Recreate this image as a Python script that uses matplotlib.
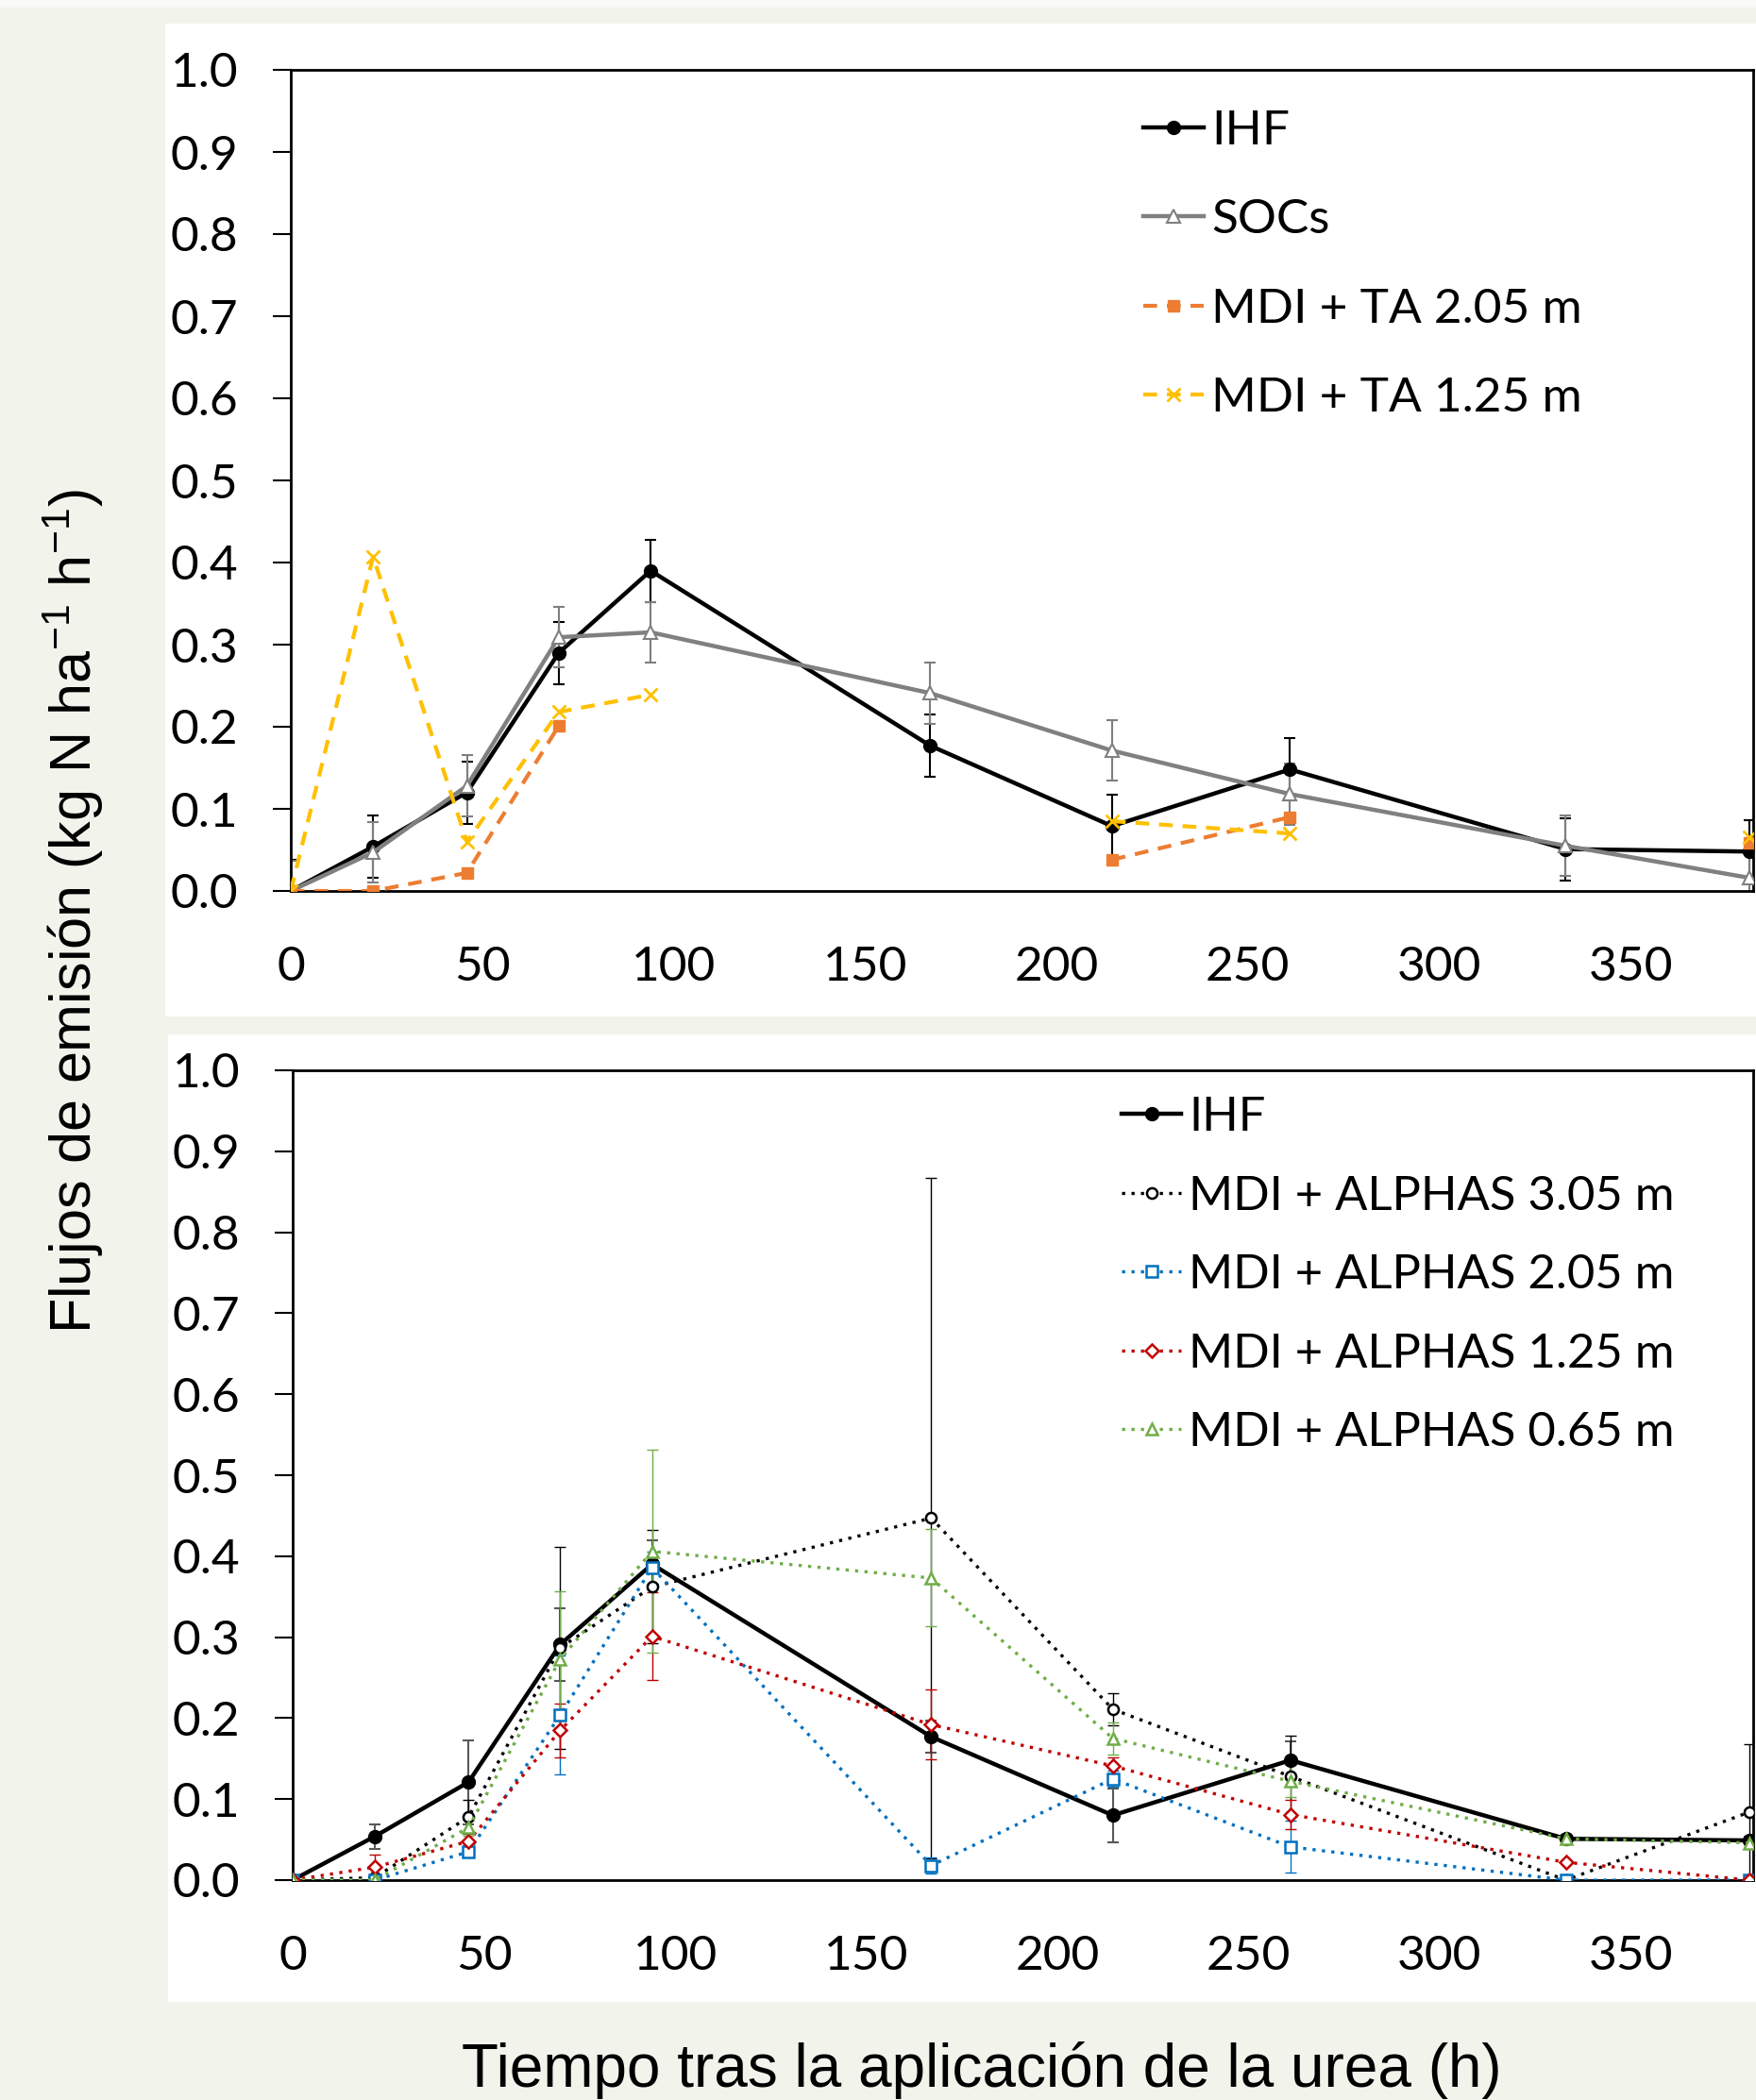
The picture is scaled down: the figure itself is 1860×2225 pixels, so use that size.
import numpy as np
import matplotlib
matplotlib.use("Agg")
import matplotlib.pyplot as plt
from matplotlib.patches import Rectangle

# ---- data ----
tiempo = [0, 21.5, 46, 70, 94, 167, 214.5, 261, 333, 381]

# upper panel
ihf_sup = [0.0, 0.054, 0.120, 0.290, 0.390, 0.177, 0.079, 0.148, 0.051, 0.048]
ihf_sup_err = [0.038] * 10
socs = [0.0, 0.047, 0.128, 0.309, 0.315, 0.241, 0.171, 0.118, 0.055, 0.016]
socs_err = [0.037] * 10
ta_205 = [0.0, 0.0, 0.022, 0.201, np.nan, np.nan, 0.038, 0.090, np.nan, 0.059]
ta_125 = [0.0, 0.407, 0.060, 0.218, 0.239, np.nan, 0.085, 0.070, np.nan, 0.066]

# lower panel
ihf_inf = [0.0, 0.054, 0.121, 0.291, 0.390, 0.177, 0.080, 0.148, 0.051, 0.049]
ihf_inf_err = [0.0, 0.015, 0.052, 0.045, 0.030, 0.020, 0.033, 0.023, 0.005, 0.005]
al_305 = [0.0, 0.003, 0.078, 0.287, 0.362, 0.447, 0.211, 0.128, 0.0, 0.084]
al_305_err = [0.0, 0.003, 0.021, 0.125, 0.070, 0.420, 0.020, 0.050, 0.0, 0.084]
al_205 = [0.0, 0.0, 0.035, 0.204, 0.386, 0.018, 0.125, 0.041, 0.0, 0.0]
al_205_err = [0.0, 0.0, 0.005, 0.073, 0.020, 0.010, 0.010, 0.032, 0.0, 0.0]
al_125 = [0.0, 0.016, 0.048, 0.185, 0.301, 0.192, 0.141, 0.081, 0.022, 0.0]
al_125_err = [0.0, 0.015, 0.010, 0.033, 0.054, 0.043, 0.010, 0.018, 0.0, 0.0]
al_065 = [0.0, 0.0, 0.065, 0.273, 0.406, 0.373, 0.175, 0.122, 0.051, 0.046]
al_065_err = [0.0, 0.0, 0.010, 0.084, 0.125, 0.060, 0.020, 0.020, 0.005, 0.005]

y_ticks = [0.0, 0.1, 0.2, 0.3, 0.4, 0.5, 0.6, 0.7, 0.8, 0.9, 1.0]
x_ticks = [0, 50, 100, 150, 200, 250, 300, 350]

W, H = 1860, 2225
TICK_FONT = ["Lato", "DejaVu Sans"]
LABEL_FONT = ["Liberation Sans", "DejaVu Sans"]
plt.rcParams["mathtext.fontset"] = "custom"
plt.rcParams["mathtext.rm"] = "Liberation Sans"
plt.rcParams["mathtext.default"] = "rm"


def fx(px):
    return px / W


def fy(py):
    return 1 - py / H


fig = plt.figure(figsize=(W / 100, H / 100), dpi=100)
fig.patch.set_facecolor("#F2F4EC")
fig.add_artist(Rectangle((0, fy(8)), 1, 8 / H, transform=fig.transFigure,
                         facecolor="#FAFAF7", edgecolor="none", zorder=-2))
fig.add_artist(Rectangle((fx(175), fy(1077)), fx(W - 175), (1077 - 25) / H,
                         transform=fig.transFigure, facecolor="white",
                         edgecolor="none", zorder=-1))
fig.add_artist(Rectangle((fx(178), fy(2121)), fx(W - 178), (2121 - 1096) / H,
                         transform=fig.transFigure, facecolor="white",
                         edgecolor="none", zorder=-1))

ax1 = fig.add_axes([fx(308), fy(944), (1857 - 308) / W, (944 - 74) / H])
ax2 = fig.add_axes([fx(310), fy(1992), (1857 - 310) / W, (1992 - 1134) / H])


def style_axes(ax):
    ax.set_xlim(0, 382)
    ax.set_ylim(0, 1.0)
    ax.set_yticks(y_ticks)
    ax.set_yticklabels([f"{v:.1f}" for v in y_ticks])
    ax.set_xticks(x_ticks)
    ax.set_xticklabels([str(v) for v in x_ticks])
    for s in ax.spines.values():
        s.set_linewidth(2)
        s.set_color("black")
    ax.tick_params(axis="y", direction="out", length=14, width=1.5, pad=26)
    ax.tick_params(axis="x", length=0, pad=42)
    for lab in ax.get_xticklabels() + ax.get_yticklabels():
        lab.set_fontfamily(TICK_FONT)
        lab.set_fontsize(37)


# ---- upper panel ----
ax1.errorbar(tiempo, ihf_sup, yerr=ihf_sup_err, fmt="none", ecolor="black",
             elinewidth=1.5, capsize=4, capthick=1.5, zorder=2)
ax1.errorbar(tiempo, socs, yerr=socs_err, fmt="none", ecolor="#7F7F7F",
             elinewidth=1.5, capsize=4, capthick=1.5, zorder=2)
l1, = ax1.plot(tiempo, ihf_sup, color="black", lw=3.2, marker="o", ms=10,
               label="IHF", zorder=3)
l2, = ax1.plot(tiempo, socs, color="#808080", lw=3.2, marker="^", ms=10,
               mfc="white", mec="#808080", mew=1.5, label="SOCs", zorder=3)
l3, = ax1.plot(tiempo, ta_205, color="#ED7D31", lw=3, ls=(0, (3.5, 2.5)),
               marker="s", ms=9, label="MDI + TA 2.05 m", zorder=4)
l4, = ax1.plot(tiempo, ta_125, color="#FFC000", lw=3, ls=(0, (3.5, 2.5)),
               marker="x", ms=10, mew=2, label="MDI + TA 1.25 m", zorder=4)
style_axes(ax1)
ax1.legend(handles=[l1, l2, l3, l4], loc="upper left",
           bbox_to_anchor=(fx(1211), fy(116)), bbox_transform=fig.transFigure,
           frameon=False, handlelength=1.25, handletextpad=0.15,
           labelspacing=0.94, borderpad=0, borderaxespad=0,
           prop={"family": TICK_FONT, "size": 37})

# ---- lower panel ----
ax2.errorbar(tiempo, ihf_inf, yerr=ihf_inf_err, fmt="none", ecolor="#595959",
             elinewidth=1.5, capsize=4, capthick=1.5, zorder=2)
series_inf = [
    (al_305, al_305_err, "black", "o", "MDI + ALPHAS 3.05 m"),
    (al_205, al_205_err, "#0070C0", "s", "MDI + ALPHAS 2.05 m"),
    (al_125, al_125_err, "#C00000", "D", "MDI + ALPHAS 1.25 m"),
    (al_065, al_065_err, "#70AD47", "^", "MDI + ALPHAS 0.65 m"),
]
m1, = ax2.plot(tiempo, ihf_inf, color="black", lw=3.2, marker="o", ms=10,
               label="IHF", zorder=3)
handles = [m1]
for vals, errs, col, mk, lab in series_inf:
    ax2.errorbar(tiempo, vals, yerr=errs, fmt="none", ecolor=col,
                 elinewidth=1, capsize=4, capthick=1, ls=":", zorder=2)
    ms = 7 if mk == "D" else 8
    h, = ax2.plot(tiempo, vals, color=col, lw=2.4, ls=(0, (1, 2)),
                  marker=mk, ms=ms, mfc="white", mec=col, mew=1.8,
                  label=lab, zorder=4)
    handles.append(h)
style_axes(ax2)
ax2.legend(handles=handles, loc="upper left",
           bbox_to_anchor=(fx(1188), fy(1161)), bbox_transform=fig.transFigure,
           frameon=False, handlelength=1.25, handletextpad=0.15,
           labelspacing=0.74, borderpad=0, borderaxespad=0,
           prop={"family": TICK_FONT, "size": 36.5})

# ---- axis titles ----
fig.text(fx(78), fy(966), "Flujos de emisión (kg N ha$^{-1}$ h$^{-1}$)",
         rotation=90, ha="center", va="center", fontsize=44,
         family=LABEL_FONT)
fig.text(fx(1040), fy(2211), "Tiempo tras la aplicación de la urea (h)",
         ha="center", va="baseline", fontsize=46, family=LABEL_FONT)

fig.savefig("out.png", dpi=100, facecolor=fig.get_facecolor())
